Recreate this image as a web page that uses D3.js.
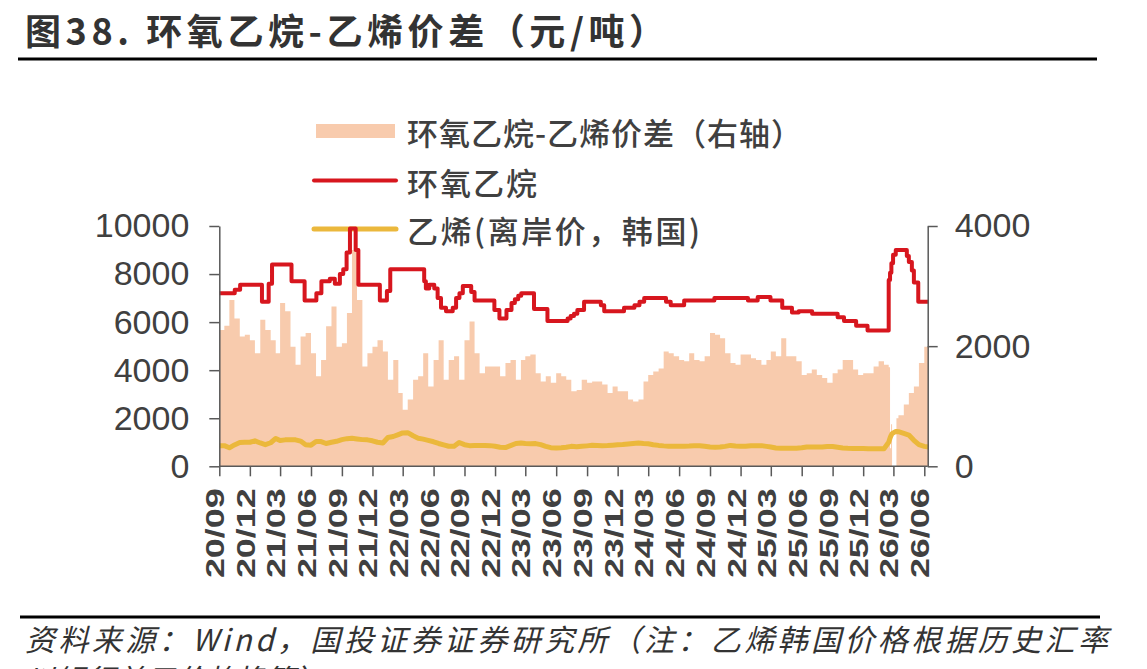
<!DOCTYPE html>
<meta charset="utf-8">
<script src="https://d3js.org/d3.v7.min.js"></script>
<style>
body { margin: 0; background: #fff; }
svg { display: block; }
.axis text { font-family: "Liberation Sans", Arial, sans-serif; fill: #404040; }
.axis line, .axis path { stroke: #595959; stroke-width: 1.5px; }
.cjk { font-family: "Noto Sans CJK SC", sans-serif; fill: #404040; }
</style>
<body>
<script>

// x tick labels (quarterly)
const xTickLabels = ["20/09","20/12","21/03","21/06","21/09","21/12","22/03","22/06","22/09","22/12",
    "23/03","23/06","23/09","23/12","24/03","24/06","24/09","24/12","25/03","25/06","25/09","25/12",
    "26/03","26/06"];

const leftTicks = [0, 2000, 4000, 6000, 8000, 10000];
const rightTicks = [0, 2000, 4000];

const legendNames = ["环氧乙烷-乙烯价差（右轴）", "环氧乙烷", "乙烯(离岸价，韩国)"];

// 环氧乙烷 price, yuan/t (step changes)
const eoPrice = [
    ["2020-09-01",7200],["2020-10-17",7350],["2020-11-02",7550],["2021-01-06",6850],["2021-01-26",7600],
    ["2021-02-05",8400],["2021-04-04",7700],["2021-05-13",6900],["2021-06-17",7200],["2021-07-02",7700],
    ["2021-07-27",7800],["2021-08-11",7600],["2021-08-26",8000],["2021-09-05",8200],["2021-09-15",8900],
    ["2021-09-25",9900],["2021-10-12",9000],["2021-10-20",7550],["2021-12-23",6900],["2022-01-13",7300],
    ["2022-01-23",8200],["2022-05-04",7700],["2022-05-09",7400],["2022-05-19",7550],["2022-06-03",7400],
    ["2022-06-13",7000],["2022-06-23",6600],["2022-07-08",6450],["2022-07-28",6600],["2022-08-07",7000],
    ["2022-08-17",7200],["2022-08-27",7500],["2022-09-21",7250],["2022-10-01",6900],["2022-11-29",6500],
    ["2022-12-14",6150],["2023-01-04",6500],["2023-01-19",6800],["2023-01-29",6950],["2023-02-08",7100],
    ["2023-02-17",7200],["2023-03-27",6550],["2023-05-06",6050],["2023-07-05",6150],["2023-07-14",6250],
    ["2023-07-24",6350],["2023-08-03",6500],["2023-08-23",6850],["2023-10-12",6700],["2023-10-22",6450],
    ["2023-12-20",6600],["2024-01-20",6700],["2024-02-04",6850],["2024-02-18",7000],["2024-04-23",6850],
    ["2024-05-07",6700],["2024-06-16",6900],["2024-09-14",7000],["2024-12-23",6900],["2025-01-21",7050],
    ["2025-02-28",6900],["2025-04-04",6600],["2025-05-03",6400],["2025-05-23",6450],["2025-07-02",6350],
    ["2025-09-16",6200],["2025-10-05",6050],["2025-11-10",5850],["2025-12-14",5650],["2026-02-15",7750],
    ["2026-02-19",8050],["2026-02-23",8450],["2026-02-28",8800],["2026-03-08",9000],["2026-04-10",8750],
    ["2026-04-16",8500],["2026-04-25",8150],["2026-05-01",7650],["2026-05-14",6850],["2026-06-14",6850]
];

// 乙烯 Korea FOB, left axis
const ethylene = [
    ["2020-09-01",860],["2020-09-16",860],["2020-10-01",770],["2020-10-16",890],["2020-11-01",990],["2020-11-16",1000],
    ["2020-12-01",1000],["2020-12-16",1060],
    ["2021-01-01",970],["2021-01-16",900],["2021-02-01",980],["2021-02-16",1160],["2021-03-01",1070],["2021-03-16",1100],
    ["2021-04-01",1110],["2021-04-16",1100],["2021-05-01",1050],["2021-05-16",900],["2021-06-01",880],["2021-06-16",1030],
    ["2021-07-01",1030],["2021-07-16",950],["2021-08-01",1000],["2021-08-16",1040],["2021-09-01",1110],["2021-09-16",1150],
    ["2021-10-01",1170],["2021-10-16",1140],["2021-11-01",1110],["2021-11-16",1100],["2021-12-01",1060],["2021-12-16",1000],
    ["2022-01-01",970],["2022-01-16",1200],["2022-02-01",1240],["2022-02-16",1320],["2022-03-01",1390],["2022-03-16",1400],
    ["2022-04-01",1270],["2022-04-16",1170],["2022-05-01",1130],["2022-05-16",1080],["2022-06-01",1020],["2022-06-16",950],
    ["2022-07-01",890],["2022-07-16",835],["2022-08-01",830],["2022-08-16",990],["2022-09-01",900],["2022-09-16",860],
    ["2022-10-01",865],["2022-10-16",870],["2022-11-01",865],["2022-11-16",860],["2022-12-01",835],["2022-12-16",790],
    ["2023-01-01",780],["2023-01-16",860],["2023-02-01",950],["2023-02-16",970],["2023-03-01",945],["2023-03-16",940],
    ["2023-04-01",945],["2023-04-16",900],["2023-05-01",830],["2023-05-16",775],["2023-06-01",762],["2023-06-16",770],
    ["2023-07-01",790],["2023-07-16",830],["2023-08-01",810],["2023-08-16",830],["2023-09-01",850],["2023-09-16",872],
    ["2023-10-01",868],["2023-10-16",860],["2023-11-01",865],["2023-11-16",880],["2023-12-01",895],["2023-12-16",905],
    ["2024-01-01",930],["2024-01-16",950],["2024-02-01",965],["2024-02-16",945],["2024-03-01",935],["2024-03-16",900],
    ["2024-04-01",870],["2024-04-16",850],["2024-05-01",835],["2024-05-16",830],["2024-06-01",830],["2024-06-16",831],
    ["2024-07-01",840],["2024-07-16",855],["2024-08-01",855],["2024-08-16",831],["2024-09-01",800],["2024-09-16",790],
    ["2024-10-01",800],["2024-10-16",830],["2024-11-01",870],["2024-11-16",845],["2024-12-01",831],["2024-12-16",831],
    ["2025-01-01",859],["2025-01-16",860],["2025-02-01",860],["2025-02-16",830],["2025-03-01",800],["2025-03-16",760],
    ["2025-04-01",748],["2025-04-16",748],["2025-05-01",748],["2025-05-16",750],["2025-06-01",770],["2025-06-16",800],
    ["2025-07-01",800],["2025-07-16",800],["2025-08-01",800],["2025-08-16",820],["2025-09-01",820],["2025-09-16",790],
    ["2025-10-01",762],["2025-10-16",750],["2025-11-01",745],["2025-11-16",740],["2025-12-01",740],["2025-12-16",734],
    ["2026-01-01",734],["2026-01-16",734],["2026-02-01",734],["2026-02-15",1000],["2026-02-19",1180],["2026-02-22",1280],
    ["2026-02-25",1360],["2026-03-07",1440],["2026-03-10",1450],["2026-03-16",1440],["2026-04-01",1370],["2026-04-16",1300],
    ["2026-05-01",1080],["2026-05-16",900],["2026-06-01",830],["2026-06-14",800]
];

// 价差, right axis
const spread = [
    ["2020-09-01",2270],["2020-09-16",2340],["2020-10-01",2770],["2020-10-16",2460],["2020-11-01",2160],["2020-11-16",2190],
    ["2020-12-01",2100],["2020-12-16",1880],
    ["2021-01-01",2440],["2021-01-16",2270],["2021-02-01",2100],["2021-02-16",1880],["2021-03-01",2720],["2021-03-16",2580],
    ["2021-04-01",1990],["2021-04-16",1690],["2021-05-01",2160],["2021-05-16",2220],["2021-06-01",1880],["2021-06-16",1500],
    ["2021-07-01",1770],["2021-07-16",2330],["2021-08-01",2660],["2021-08-16",1990],["2021-09-01",2050],["2021-09-16",2550],
    ["2021-10-01",3600],["2021-10-16",2770],["2021-11-01",1660],["2021-11-16",1880],["2021-12-01",1990],["2021-12-16",2100],
    ["2022-01-01",1910],["2022-01-16",1440],["2022-02-01",1770],["2022-02-16",1220],["2022-03-01",940],["2022-03-16",1110],
    ["2022-04-01",1440],["2022-04-16",1500],["2022-05-01",1880],["2022-05-16",1330],["2022-06-01",1770],["2022-06-16",2100],
    ["2022-07-01",1440],["2022-07-16",1770],["2022-08-01",1830],["2022-08-16",1440],["2022-09-01",2100],["2022-09-16",2410],
    ["2022-10-01",1880],["2022-10-16",1550],["2022-11-01",1660],["2022-11-16",1660],["2022-12-01",1660],["2022-12-16",1500],
    ["2023-01-01",1720],["2023-01-16",1770],["2023-02-01",1440],["2023-02-16",1770],["2023-03-01",1830],["2023-03-16",1860],
    ["2023-04-01",1550],["2023-04-16",1410],["2023-05-01",1500],["2023-05-16",1390],["2023-06-01",1550],["2023-06-16",1500],
    ["2023-07-01",1440],["2023-07-16",1250],["2023-08-01",1270],["2023-08-16",1440],["2023-09-01",1390],["2023-09-16",1410],
    ["2023-10-01",1410],["2023-10-16",1360],["2023-11-01",1220],["2023-11-16",1330],["2023-12-01",1250],["2023-12-16",1250],
    ["2024-01-01",1110],["2024-01-16",1080],["2024-02-01",1110],["2024-02-16",1410],["2024-03-01",1520],["2024-03-16",1580],
    ["2024-04-01",1630],["2024-04-16",1910],["2024-05-01",1880],["2024-05-16",1830],["2024-06-01",1770],["2024-06-16",1750],
    ["2024-07-01",1880],["2024-07-16",1770],["2024-08-01",1750],["2024-08-16",1830],["2024-09-01",2220],["2024-09-16",2190],
    ["2024-10-01",2130],["2024-10-16",1880],["2024-11-01",1720],["2024-11-16",1690],["2024-12-01",1860],["2024-12-16",1860],
    ["2025-01-01",1800],["2025-01-16",1770],["2025-02-01",1690],["2025-02-16",1770],["2025-03-01",1910],["2025-03-16",1830],
    ["2025-04-01",2130],["2025-04-16",1830],["2025-05-01",1830],["2025-05-16",1750],["2025-06-01",1520],["2025-06-16",1550],
    ["2025-07-01",1610],["2025-07-16",1520],["2025-08-01",1470],["2025-08-16",1390],["2025-09-01",1550],["2025-09-16",1610],
    ["2025-10-01",1770],["2025-10-16",1770],["2025-11-01",1610],["2025-11-16",1520],["2025-12-01",1550],["2025-12-16",1550],
    ["2026-01-01",1660],["2026-01-16",1750],["2026-02-01",1690],["2026-02-15",1650],["2026-02-19",300],["2026-02-22",700],
    ["2026-02-25",0],["2026-03-07",0],["2026-03-10",800],["2026-03-16",850],["2026-04-01",1030],["2026-04-16",1220],
    ["2026-05-01",1330],["2026-05-16",1720],["2026-06-01",1990],["2026-06-14",2140]
];

var width = 1147, height = 669;
var areaColor = "#F8CBAD", redColor = "#D7161E", yellowColor = "#EBB83C";

var parse = d3.timeParse("%Y-%m-%d");
var parseTick = d3.timeParse("%y/%m");
var tickDates = xTickLabels.map(parseTick);

function rows(arr) {
    return arr.map(d => ({ date: parse(d[0]), v: d[1] }));
}

var svg = d3.select("body").append("svg")
    .attr("width", width)
    .attr("height", height);

var x = d3.scaleTime()
    .domain([tickDates[0], tickDates[tickDates.length - 1]])
    .range([219.3, 924.3]);
var yLeft = d3.scaleLinear().domain([0, 10000]).range([466.3, 226]);
var yRight = d3.scaleLinear().domain([0, 4000]).range([466.3, 226]);
var rightX = 927.7;

// title + rules
svg.append("text").attr("class", "cjk")
    .attr("x", 25).attr("y", 29)
    .attr("dominant-baseline", "central")
    .attr("font-size", 36).attr("font-weight", 700)
    .style("fill", "#333")
    .attr("textLength", 640).attr("lengthAdjust", "spacing")
    .text("图38. 环氧乙烷-乙烯价差（元/吨）");
svg.append("line").attr("x1", 18).attr("x2", 1097).attr("y1", 59).attr("y2", 59)
    .attr("stroke", "#000").attr("stroke-width", 3);

// area (right axis)
var area = d3.area()
    .x(d => x(d.date))
    .y0(yRight(0))
    .y1(d => yRight(d.v))
    .curve(d3.curveStepAfter);
svg.append("path")
    .datum(rows(spread))
    .attr("fill", areaColor)
    .attr("d", area);

// legend
var leg = svg.append("g");
leg.append("rect").attr("x", 316).attr("y", 124).attr("width", 79).attr("height", 14).attr("fill", areaColor);
leg.append("line").attr("x1", 314).attr("x2", 396).attr("y1", 180.5).attr("y2", 180.5)
    .attr("stroke", redColor).attr("stroke-width", 4).attr("stroke-linecap", "round");
leg.append("line").attr("x1", 314).attr("x2", 396).attr("y1", 229).attr("y2", 229)
    .attr("stroke", yellowColor).attr("stroke-width", 5).attr("stroke-linecap", "round");
var legLens = [395, 130, 293];
[131, 181, 229].forEach((cy, i) => {
    leg.append("text").attr("class", "cjk")
        .attr("x", 407).attr("y", cy)
        .attr("dominant-baseline", "central")
        .attr("font-size", 31).attr("font-weight", 500)
        .attr("textLength", legLens[i]).attr("lengthAdjust", "spacing")
        .text(legendNames[i]);
});

// lines (left axis)
var eoLine = d3.line()
    .x(d => x(d.date))
    .y(d => yLeft(d.v))
    .curve(d3.curveStepAfter);
svg.append("path")
    .datum(rows(eoPrice))
    .attr("fill", "none")
    .attr("stroke", redColor)
    .attr("stroke-width", 4)
    .attr("stroke-linejoin", "round")
    .attr("d", eoLine);

var ethLine = d3.line()
    .x(d => x(d.date))
    .y(d => yLeft(d.v));
svg.append("path")
    .datum(rows(ethylene))
    .attr("fill", "none")
    .attr("stroke", yellowColor)
    .attr("stroke-width", 5)
    .attr("stroke-linejoin", "round")
    .attr("d", ethLine);

// axes
var gl = svg.append("g").attr("class", "axis")
    .attr("transform", "translate(" + x.range()[0] + ",0)")
    .call(d3.axisLeft(yLeft).tickValues(leftTicks).tickFormat(d3.format("d"))
        .tickSize(10).tickSizeOuter(0).tickPadding(20));
gl.selectAll("text").attr("font-size", 34);

var gr = svg.append("g").attr("class", "axis")
    .attr("transform", "translate(" + rightX + ",0)")
    .call(d3.axisRight(yRight).tickValues(rightTicks).tickFormat(d3.format("d"))
        .tickSize(10).tickSizeOuter(0).tickPadding(17));
gr.selectAll("text").attr("font-size", 34);

var gb = svg.append("g").attr("class", "axis")
    .attr("transform", "translate(0," + yLeft(0) + ")")
    .call(d3.axisBottom(x).tickValues(tickDates).tickSize(10).tickSizeOuter(0)
        .tickFormat(d3.timeFormat("%y/%m")));
gb.select(".domain").remove();
gb.append("line").attr("x1", x.range()[0]).attr("x2", rightX).attr("y1", 0).attr("y2", 0);
gb.selectAll("text")
    .attr("x", 0).attr("y", 0).attr("dy", null)
    .attr("text-anchor", "end")
    .attr("font-size", 26).attr("font-weight", 700)
    .attr("transform", "translate(4.5,22) rotate(-90) scale(1.38,1)");

// footer (second line is cut by the page edge, as in the source image)
svg.append("line").attr("x1", 20).attr("x2", 1100).attr("y1", 617).attr("y2", 617)
    .attr("stroke", "#000").attr("stroke-width", 3);
svg.append("text").attr("class", "cjk")
    .attr("x", 25).attr("y", 651)
    .attr("font-size", 30).attr("font-style", "italic")
    .style("fill", "#333")
    .attr("textLength", 1083).attr("lengthAdjust", "spacing")
    .text("资料来源：Wind，国投证券证券研究所（注：乙烯韩国价格根据历史汇率");
svg.append("text").attr("class", "cjk")
    .attr("x", 25).attr("y", 691)
    .attr("font-size", 30).attr("font-style", "italic")
    .style("fill", "#333")
    .text("以银行美元价格换算）");

</script>
</body>
